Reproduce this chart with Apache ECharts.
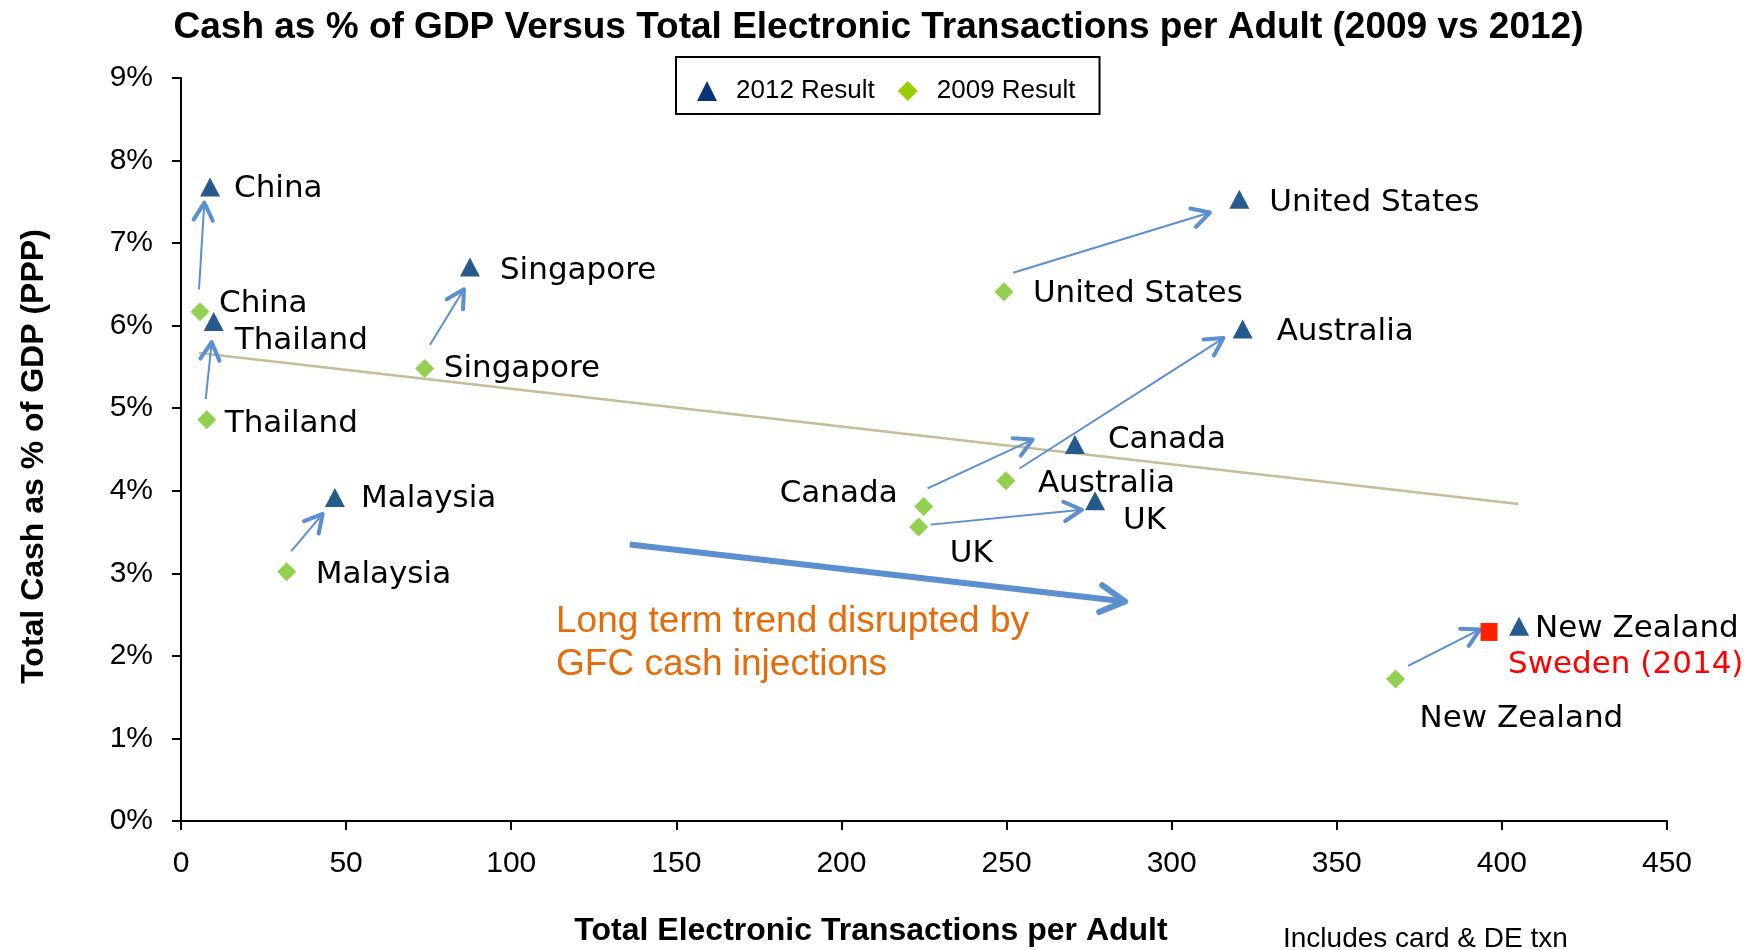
<!DOCTYPE html>
<html>
  <head>
    <meta charset="utf-8" />
    <style>
      html, body {margin: 0; padding: 0; background: #fff;}
      #chart {width: 1757px; height: 950px;}
    </style>
    <script src="https://cdn.jsdelivr.net/npm/echarts@6.0.0/dist/echarts.min.js"></script>
  </head>
  <body>
    <div id="chart"></div>

    <script type="text/javascript">
      // --- data ---
      var countries = ['China', 'Thailand', 'Singapore', 'Malaysia', 'United States',
                       'Australia', 'Canada', 'UK', 'New Zealand'];
      var txn2012  = [8.8, 9.9, 87.5, 46.6, 320.5, 321.5, 270.7, 276.8, 405.2];
      var cash2012 = [7.68, 6.05, 6.71, 3.92, 7.53, 5.96, 4.56, 3.88, 2.36];
      var txn2009  = [5.75, 7.8, 73.8, 32.0, 249.2, 249.8, 224.9, 223.4, 367.8];
      var cash2009 = [6.17, 4.86, 5.48, 3.02, 6.41, 4.12, 3.81, 3.56, 1.72];
      var swedenName = 'Sweden (2014)';
      var swedenTxn = 396.1;
      var swedenCash = 2.29;

      // arrows 2009 -> 2012 (start and tip, in axis units)
      var arrowFrom = [[5.45, 6.44], [7.48, 5.11], [75.4, 5.77], [33.4, 3.27], [252, 6.64],
                       [253.9, 4.27], [226.1, 4.03], [227, 3.59], [371.6, 1.88]];
      var arrowTo   = [[7.06, 7.49], [9.3, 5.80], [85.7, 6.44], [42.9, 3.72], [311.6, 7.37],
                       [315.7, 5.85], [257.9, 4.62], [272.8, 3.77], [393.4, 2.32]];
      var bigArrow  = [135.9, 3.35, 285.9, 2.66];
      var trendLine = [[5.45, 5.67], [405, 3.84]];

      var xTicks = [0, 450, 50];   // min, max, step
      var yTicks = [0, 9, 1];

      // label offsets from the marker centre (px)
      var off2012 = [[24, 0], [21, 17], [30, 2], [26, 0], [30, 2], [34, 1], [33, -7], [28, 18], [16, 1]];
      var off2009 = [[19, -10], [18, 2], [19, -2], [29, 1], [29, 0], [32, 1], [-26, -15], [31, 25], [24, 38]];
      var offSweden = [19, 31];

      var triSize = [20, 19];
      var diaSize = [19, 19];
      var sqSize = [17, 18];
      var arrowColor = '#5b8fcf';

      function labelAt(size, off, color) {
        return {
          show: true,
          formatter: '{b}',
          position: [size[0] / 2 + off[0], size[1] / 2 + off[1] + 2],
          align: off[0] < 0 ? 'right' : 'left',
          verticalAlign: 'middle',
          fontFamily: 'DejaVu Sans',
          fontSize: 31,
          color: color || '#000'
        };
      }

      var data2012 = countries.map(function (c, i) {
        return {name: c, value: [txn2012[i], cash2012[i]], label: labelAt(triSize, off2012[i])};
      });
      var data2009 = countries.map(function (c, i) {
        return {name: c, value: [txn2009[i], cash2009[i]], label: labelAt(diaSize, off2009[i])};
      });
      var arrowData = arrowFrom.map(function (f, i) {
        return [f[0], f[1], arrowTo[i][0], arrowTo[i][1]];
      });

      function arrowRender(shaftW, headW, headLen) {
        return function (params, api) {
          var p1 = api.coord([api.value(0), api.value(1)]);
          var p2 = api.coord([api.value(2), api.value(3)]);
          var ang = Math.atan2(p2[1] - p1[1], p2[0] - p1[0]);
          var a1 = ang + Math.PI - 0.5, a2 = ang + Math.PI + 0.5;
          var h1 = [p2[0] + headLen * Math.cos(a1), p2[1] + headLen * Math.sin(a1)];
          var h2 = [p2[0] + headLen * Math.cos(a2), p2[1] + headLen * Math.sin(a2)];
          return {
            type: 'group',
            children: [
              {type: 'line', shape: {x1: p1[0], y1: p1[1], x2: p2[0], y2: p2[1]},
               style: {stroke: arrowColor, lineWidth: shaftW}},
              {type: 'polyline', shape: {points: [h1, p2, h2]},
               style: {stroke: arrowColor, fill: null, lineWidth: headW, lineCap: 'round', lineJoin: 'round'}}
            ]
          };
        };
      }

      var chart = echarts.init(document.getElementById('chart'));

      var option = {
        animation: false,
        title: {
          text: 'Cash as % of GDP Versus Total Electronic Transactions per Adult (2009 vs 2012)',
          left: 'center',
          top: 4,
          textStyle: {fontFamily: 'Liberation Sans', fontWeight: 'bold', fontSize: 37, color: '#000'}
        },
        legend: {
          left: 676,
          top: 57,
          padding: [21, 24, 10, 21],
          borderColor: '#000',
          borderWidth: 2,
          itemWidth: 20,
          itemHeight: 20,
          itemGap: 23,
          textStyle: {fontFamily: 'Liberation Sans', fontSize: 26, color: '#000', padding: [0, 0, 0, 14]},
          data: [
            {name: '2012 Result', icon: 'triangle', itemStyle: {color: '#0b3479'}},
            {name: '2009 Result', icon: 'diamond', itemStyle: {color: '#9acd00'}}
          ]
        },
        grid: {left: 181, right: 90, top: 78, bottom: 129, outerBoundsMode: 'none', containLabel: false},
        xAxis: {
          type: 'value',
          min: xTicks[0], max: xTicks[1], interval: xTicks[2],
          name: 'Total Electronic Transactions per Adult',
          nameLocation: 'middle',
          nameGap: 94,
          nameTextStyle: {fontFamily: 'Liberation Sans', fontWeight: 'bold', fontSize: 32, color: '#000',
                          padding: [0, 106, 0, 0]},
          splitLine: {show: false},
          axisLine: {lineStyle: {color: '#000', width: 2}},
          axisTick: {show: true, length: 9, lineStyle: {color: '#000', width: 2}},
          axisLabel: {fontFamily: 'Liberation Sans', fontSize: 30, color: '#000', margin: 28}
        },
        yAxis: {
          type: 'value',
          min: yTicks[0], max: yTicks[1], interval: yTicks[2],
          name: 'Total Cash as % of GDP (PPP)',
          nameLocation: 'middle',
          nameGap: 131,
          nameTextStyle: {fontFamily: 'Liberation Sans', fontWeight: 'bold', fontSize: 32, color: '#000',
                          padding: [0, 14, 0, 0]},
          splitLine: {show: false},
          axisLine: {show: true, lineStyle: {color: '#000', width: 2}},
          axisTick: {show: true, length: 9, lineStyle: {color: '#000', width: 2}},
          axisLabel: {fontFamily: 'Liberation Sans', fontSize: 30, color: '#000', margin: 28,
                      padding: [6, 0, 0, 0], formatter: '{value}%'}
        },
        graphic: [
          {
            type: 'text', left: 556, top: 600, z: 10,
            style: {text: 'Long term trend disrupted by\nGFC cash injections', fill: '#e46c0a',
                    font: '37px "Liberation Sans"', lineHeight: 43}
          },
          {
            type: 'text', left: 1283, top: 925, z: 10,
            style: {text: 'Includes card & DE txn', fill: '#000', font: '28px "Liberation Sans"'}
          }
        ],
        series: [
          {
            name: 'trend', type: 'line', data: trendLine, symbol: 'none', z: 1,
            lineStyle: {color: '#c4bd97', width: 2.5}, silent: true
          },
          {
            name: 'arrows', type: 'custom', data: arrowData, z: 2, silent: true,
            renderItem: arrowRender(2, 4, 20)
          },
          {
            name: 'bigArrow', type: 'custom', data: [bigArrow], z: 2, silent: true,
            renderItem: arrowRender(6, 6, 28)
          },
          {
            name: '2012 Result', type: 'scatter', symbol: 'triangle', symbolSize: triSize, z: 5,
            itemStyle: {color: '#275a8c', opacity: 1},
            data: data2012
          },
          {
            name: '2009 Result', type: 'scatter', symbol: 'diamond', symbolSize: diaSize, z: 5,
            itemStyle: {color: '#92d050', opacity: 1},
            data: data2009
          },
          {
            name: swedenName, type: 'scatter', symbol: 'rect', symbolSize: sqSize, z: 6,
            itemStyle: {color: '#ff2200', opacity: 1},
            data: [{name: swedenName, value: [swedenTxn, swedenCash],
                    label: labelAt(sqSize, offSweden, '#ff0000')}]
          }
        ]
      };

      chart.setOption(option);
    </script>
  </body>
</html>
